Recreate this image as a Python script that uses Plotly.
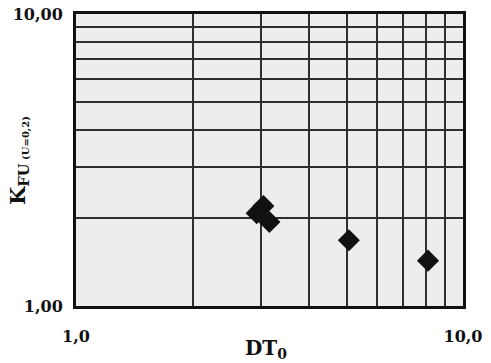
import plotly.graph_objects as go

dt0 = [2.93, 3.05, 3.16, 5.07, 8.12]
kfu = [2.08, 2.20, 1.94, 1.68, 1.43]

major_vals = [1, 10]
minor_vals = [2, 3, 4, 5, 6, 7, 8, 9]
x_tick_text = ["1,0", "10,0"]
y_tick_text = ["1,00", "10,00"]

FONT = "DejaVu Serif"
GRID = "#2e2e2e"

fig = go.Figure()
fig.add_trace(go.Scatter(
    x=dt0, y=kfu, mode="markers",
    marker=dict(symbol="diamond", size=17, color="#111111",
                line=dict(width=0)),
    showlegend=False,
))

axis_common = dict(
    type="log", range=[0, 1],
    tickvals=major_vals, ticks="", tickangle=0,
    showgrid=True, gridcolor=GRID, gridwidth=1.5,
    minor=dict(tickvals=minor_vals, showgrid=True, gridcolor=GRID,
               gridwidth=1.5, ticks=""),
    showline=True, linecolor="#111111", linewidth=3, mirror=True,
    zeroline=False, automargin=False,
)

fig.update_layout(
    width=483, height=355,
    margin=dict(l=68, r=28, t=6, b=57),
    paper_bgcolor="white",
    plot_bgcolor="#ededed",
    font=dict(family=FONT, size=16, color="#111111"),
    xaxis=dict(
        **axis_common,
        ticktext=[f"<b>{t}</b>" for t in x_tick_text],
        ticklabelstandoff=14,
    ),
    yaxis=dict(
        **axis_common,
        ticktext=[f"<b>{t}</b>" for t in y_tick_text],
        ticklabelstandoff=7,
    ),
    annotations=[
        dict(text="<b>DT<sub>0</sub></b>", xref="paper", yref="paper",
             x=0.49, y=-0.147, xanchor="center", yanchor="middle",
             showarrow=False, font=dict(size=20)),
        dict(text="<b>K<sub>FU<span style='font-size:10px'> (U=0,2)</span></sub></b>",
             xref="paper", yref="paper", x=-0.15, y=0.5,
             xanchor="center", yanchor="middle", textangle=-90,
             showarrow=False, font=dict(size=21)),
    ],
)

fig.write_html("out.html")
